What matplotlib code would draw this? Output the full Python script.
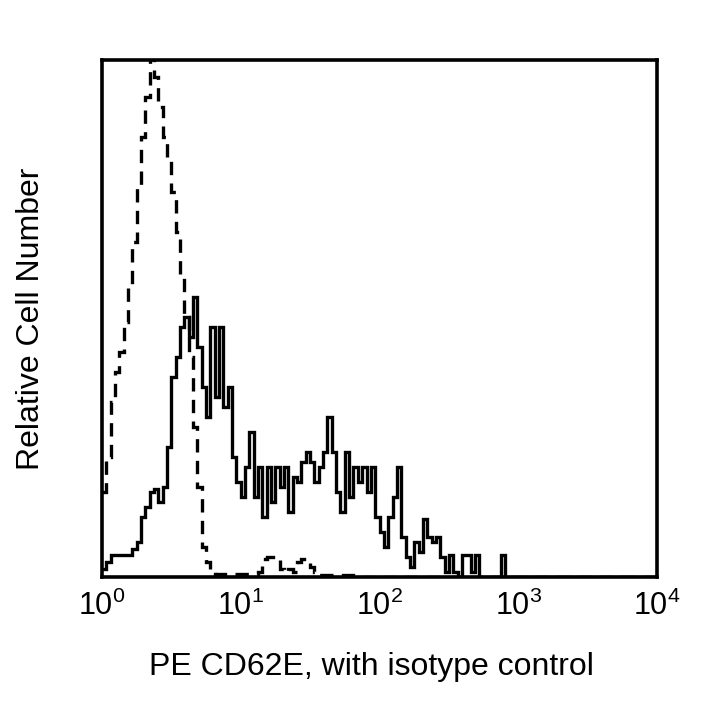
import numpy as np
import matplotlib
matplotlib.use('Agg')
import matplotlib.pyplot as plt

plt.rcParams['font.family'] = ['Liberation Sans', 'DejaVu Sans']
plt.rcParams['mathtext.fontset'] = 'custom'
plt.rcParams['mathtext.rm'] = 'Liberation Sans'
plt.rcParams['mathtext.it'] = 'Liberation Sans'

# 128 channels over 4 decades (1/32 decade per channel), relative counts
n_chan = 128
stained = [8, 15, 22, 22, 22, 22, 22, 28, 35, 60,
           70, 85, 88, 75, 90, 130, 200, 220, 250, 260,
           240, 280, 230, 190, 160, 250, 180, 250, 170, 190,
           120, 95, 80, 110, 145, 80, 110, 60, 110, 75,
           110, 90, 110, 65, 100, 95, 115, 125, 115, 95,
           110, 125, 160, 125, 85, 65, 125, 80, 110, 95,
           110, 85, 110, 60, 45, 30, 60, 80, 110, 40,
           20, 10, 35, 25, 58, 40, 35, 40, 20, 5,
           22, 5, 0, 22, 22, 5, 22, 0, 0, 0,
           0, 0, 22, 0]
isotype = [85, 120, 175, 205, 225, 255, 290, 335, 390, 440,
           480, 530, 500, 470, 440, 420, 385, 345, 300, 260,
           220, 150, 90, 30, 15, 8, 3, 3, 3, 3,
           3, 3, 3, 3, 3, 3, 5, 18, 20, 20,
           18, 8, 5, 8, 5, 15, 18, 18, 10, 5,
           2, 2, 2, 2, 2, 2, 2, 2, 2, 2]
tick_vals = [1, 10, 100, 1000, 10000]
tick_labels = ['$\\mathregular{10^0}$', '$\\mathregular{10^1}$', '$\\mathregular{10^2}$',
               '$\\mathregular{10^3}$', '$\\mathregular{10^4}$']

def pad(vals):
    out = np.zeros(n_chan)
    out[:len(vals)] = vals
    return out

edges = 10 ** (np.arange(n_chan + 1) / 32.0)

fig = plt.figure(figsize=(7.2, 7.2), dpi=100)
ax = fig.add_axes([0.1417, 0.1986, 0.7708, 0.7181])
ax.stairs(pad(stained), edges, baseline=None, color='black', lw=2.4)
ax.stairs(pad(isotype), edges, baseline=None, color='black', lw=2.4,
          linestyle=(0, (4, 2.5)))

ax.set_xscale('log')
ax.set_xlim(1, 10000)
ax.set_ylim(0, 517)
ax.set_yticks([])
ax.set_xticks(tick_vals)
ax.set_xticklabels(tick_labels)
ax.xaxis.set_minor_locator(matplotlib.ticker.NullLocator())
ax.tick_params(axis='x', length=0, pad=10, labelsize=22)
for s in ax.spines.values():
    s.set_linewidth(2.6)

ax.set_xlabel('PE CD62E, with isotype control', fontsize=23)
ax.xaxis.set_label_coords(0.485, -0.145)
ax.set_ylabel('Relative Cell Number', fontsize=23, labelpad=40)

fig.savefig('out.png', dpi=100)
